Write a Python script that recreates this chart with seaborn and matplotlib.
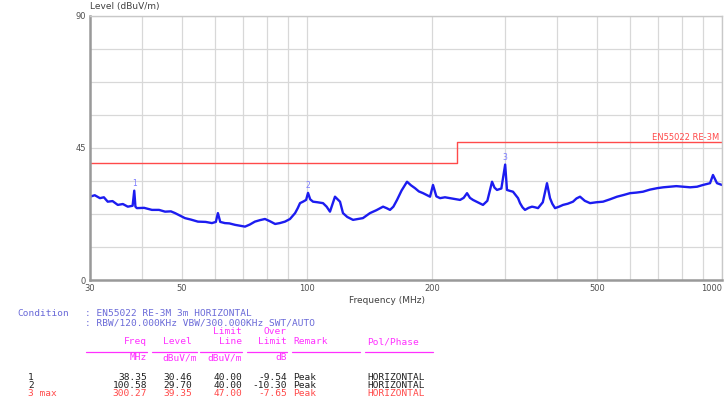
import matplotlib
matplotlib.use("Agg")
import matplotlib.pyplot as plt
import pandas as pd
import seaborn as sns

# trace (MHz, dBuV/m)
trace_freq = [30.0, 30.8, 31.7, 32.4, 33.1, 34.0, 35.0, 36.0, 37.0, 38.0, 38.35, 38.6, 38.9,
              40.5, 42.3, 44.0, 45.5, 47.0, 48.1, 50.8, 52.5, 54.6, 57.0, 59.0, 60.3, 61.0,
              61.8, 63.4, 65.0, 67.1, 69.0, 70.9, 72.8, 74.9, 77.0, 79.2, 81.5, 83.8, 86.0,
              88.5, 91.0, 93.6, 95.0, 96.2, 97.8, 99.5, 100.58, 101.8, 103.4, 106.0, 109.3,
              111.5, 113.6, 115.0, 116.8, 118.5, 120.1, 122.1, 125.0, 129.1, 132.5, 136.4,
              141.8, 147.0, 152.5, 155.5, 158.5, 161.5, 164.8, 169.0, 174.2, 178.0, 182.1,
              186.0, 190.4, 194.0, 197.9, 201.2, 205.0, 209.2, 215.0, 221.2, 227.5, 233.8,
              238.5, 243.0, 247.0, 251.2, 258.0, 265.5, 272.0, 279.2, 283.0, 287.0, 294.0,
              300.27, 303.3, 308.0, 313.6, 318.0, 322.5, 326.1, 330.5, 335.2, 342.0, 348.5,
              354.0, 360.3, 370.0, 378.7, 385.1, 390.0, 396.0, 405.0, 414.0, 425.0, 437.5,
              446.0, 454.9, 467.0, 480.9, 498.0, 516.8, 537.0, 558.6, 580.0, 600.3, 622.0,
              645.1, 670.0, 697.6, 722.0, 749.4, 776.0, 805.5, 838.0, 870.7, 900.0, 935.8,
              951.2, 972.6, 1000.0]
trace_level = [28.4, 28.9, 27.9, 28.2, 26.7, 26.9, 25.6, 25.9, 25.0, 25.3, 30.46, 25.0, 24.5,
               24.6, 23.9, 23.9, 23.3, 23.4, 22.8, 21.1, 20.6, 19.9, 19.8, 19.4, 19.8, 22.8,
               19.8, 19.4, 19.3, 18.8, 18.5, 18.2, 18.9, 19.9, 20.4, 20.8, 20.0, 19.1, 19.4,
               19.9, 20.8, 22.8, 24.5, 26.2, 26.7, 27.3, 29.70, 27.5, 26.7, 26.5, 26.2,
               25.0, 23.3, 25.5, 28.4, 27.5, 26.7, 22.8, 21.5, 20.5, 20.8, 21.1,
               22.8, 23.8, 25.0, 24.5, 23.9, 25.0, 27.3, 30.5, 33.5, 32.3, 31.3,
               30.2, 29.6, 29.0, 28.4, 32.4, 28.5, 27.9, 28.2, 27.9, 27.6, 27.3,
               28.0, 29.6, 28.0, 27.3, 26.5, 25.6, 27.0, 33.5, 31.5, 30.7, 31.2,
               39.35, 30.7, 30.4, 30.1, 29.0, 27.9, 26.2, 24.8, 23.9, 24.6, 25.0,
               24.8, 24.5, 26.5, 33.0, 27.9, 26.0, 24.5, 25.0, 25.6, 26.0, 26.7,
               27.8, 28.4, 27.0, 26.2, 26.5, 26.7, 27.5, 28.4, 29.0, 29.6, 29.8,
               30.1, 30.8, 31.3, 31.6, 31.8, 32.0, 31.8, 31.6, 31.8, 32.4, 33.0,
               35.8, 33.0, 32.4]

limit_freq = [30, 230, 230, 1000]
limit_level = [40, 40, 47, 47]

grid_freq = [30, 40, 50, 60, 70, 80, 90, 100, 200, 300, 400, 500, 600, 700, 800, 900, 1000]
label_freq = [30, 50, 100, 200, 500, 1000]
y_grid = [0, 11.25, 22.5, 33.75, 45, 56.25, 67.5, 78.75, 90]
y_labels = ["0", "", "", "", "45", "", "", "", "90"]

# marker table
marker_no = ["1", "2", "3 max"]
marker_freq = [38.35, 100.58, 300.27]
marker_level = [30.46, 29.70, 39.35]
marker_limit = [40.00, 40.00, 47.00]
over_limit = [-9.54, -10.30, -7.65]
remark = ["Peak", "Peak", "Peak"]
pol = ["HORIZONTAL", "HORIZONTAL", "HORIZONTAL"]

sns.set_style("white")
plt.rcParams["font.family"] = ["DejaVu Sans"]

W, H = 725, 400
fig = plt.figure(figsize=(W / 100, H / 100), dpi=100)
ax = fig.add_axes([90 / W, 1 - 280 / H, 632 / W, 264 / H])

df = pd.DataFrame({"freq": trace_freq, "level": trace_level})
lim = pd.DataFrame({"freq": limit_freq, "level": limit_level})

sns.lineplot(data=df, x="freq", y="level", ax=ax, color="#1c1cf0", lw=1.7,
             sort=False, estimator=None)
sns.lineplot(data=lim, x="freq", y="level", ax=ax, color="#ff4a4a", lw=1.0,
             sort=False, estimator=None)

ax.set_xscale("log")
ax.set_xlim(30, 1000)
ax.set_ylim(0, 90)
ax.set_xticks(grid_freq)
ax.set_xticklabels([str(f) if f in label_freq else "" for f in grid_freq])
ax.minorticks_off()
ax.set_yticks(y_grid)
ax.set_yticklabels(y_labels)
ax.tick_params(length=0, labelsize=6, colors="#505050", pad=3)
ax.get_xticklabels()[-1].set_horizontalalignment("right")
ax.grid(True, color="#d8d8d8", lw=0.9)
for s in ax.spines.values():
    s.set_color("#c8c8c8")
    s.set_linewidth(1.0)
ax.spines["left"].set_color("#999999")
ax.spines["left"].set_linewidth(1.8)
ax.spines["bottom"].set_color("#999999")
ax.spines["bottom"].set_linewidth(1.8)

ax.set_xlabel("Frequency (MHz)", fontsize=6.5, color="#404040")
ax.xaxis.set_label_coords(0.47, -0.06)
ax.set_ylabel("")
fig.text(90 / W, 1 - 6 / H, "Level (dBuV/m)", fontsize=6.5, color="#404040",
         ha="left", va="center")

ax.text(0.995, 47, "EN55022 RE-3M", transform=ax.get_yaxis_transform(),
        ha="right", va="bottom", fontsize=6, color="#ff4a4a")

for n, f, lv in zip(["1", "2", "3"], marker_freq, marker_level):
    ax.annotate(n, (f, lv), xytext=(0, 2), textcoords="offset points",
                ha="center", va="bottom", fontsize=5.5, color="#7a7aff")

# text block under the chart
mono = "DejaVu Sans Mono"
fs = 6.8


def put(x, y, s, color="#202020", ha="left"):
    fig.text(x / W, 1 - y / H, s, fontsize=fs, family=mono, color=color,
             ha=ha, va="center")


cond = "#6a6ad8"
mag = "#ff30ff"
put(17, 313, "Condition", cond)
put(85, 313, ": EN55022 RE-3M 3m HORIZONTAL", cond)
put(85, 323, ": RBW/120.000KHz VBW/300.000KHz SWT/AUTO", cond)

put(242, 332, "Limit", mag, "right")
put(287, 332, "Over", mag, "right")
put(147, 342, "Freq", mag, "right")
put(192, 342, "Level", mag, "right")
put(242, 342, "Line", mag, "right")
put(287, 342, "Limit", mag, "right")
put(293, 342, "Remark", mag)
put(367, 342, "Pol/Phase", mag)

for x0, x1 in [(86, 147), (152, 197), (200, 242), (247, 287), (292, 360), (365, 433)]:
    fig.add_artist(plt.Line2D([x0 / W, x1 / W], [1 - 352 / H] * 2, color=mag, lw=0.9))

put(147, 358, "MHz", mag, "right")
put(197, 358, "dBuV/m", mag, "right")
put(242, 358, "dBuV/m", mag, "right")
put(287, 358, "dB", mag, "right")

row_y = [377, 385, 393]
for i in range(3):
    c = "#ff4a4a" if i == 2 else "#202020"
    y = row_y[i]
    put(28, y, marker_no[i], c)
    put(147, y, f"{marker_freq[i]:.2f}", c, "right")
    put(192, y, f"{marker_level[i]:.2f}", c, "right")
    put(242, y, f"{marker_limit[i]:.2f}", c, "right")
    put(287, y, f"{over_limit[i]:.2f}", c, "right")
    put(293, y, remark[i], c)
    put(367, y, pol[i], c)

fig.savefig("out.png", dpi=100)
